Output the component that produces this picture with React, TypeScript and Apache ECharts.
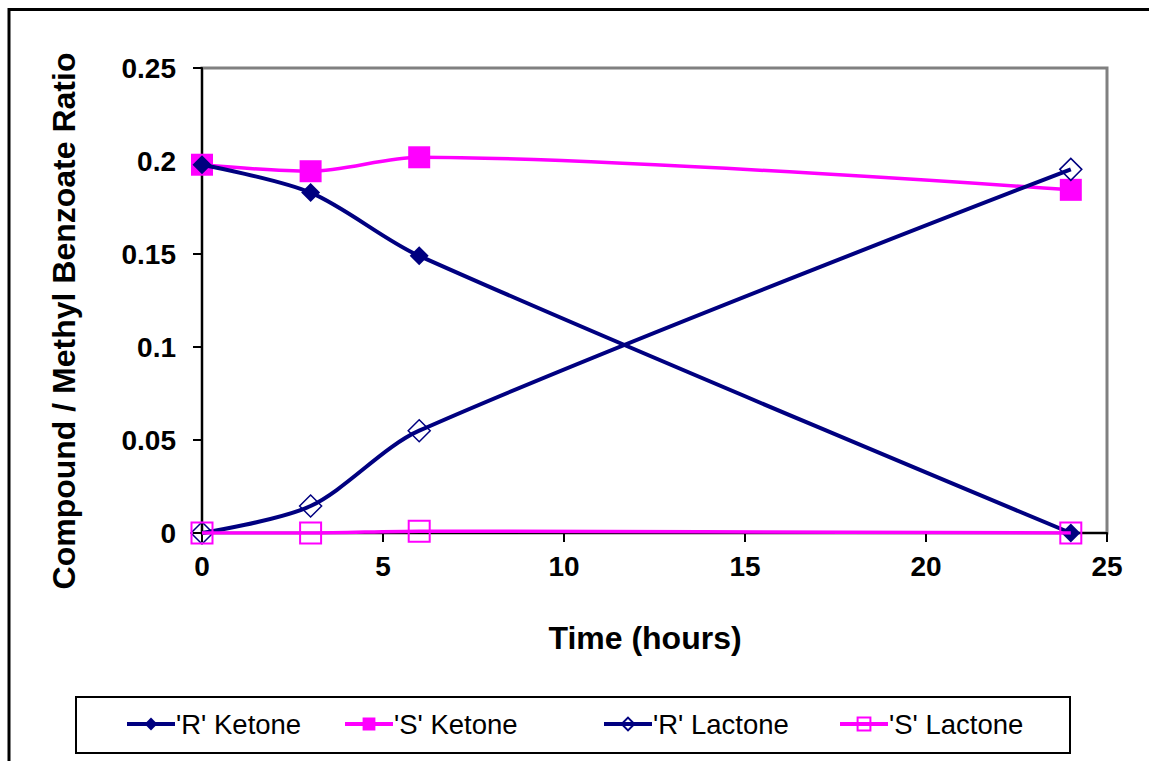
import React, { useEffect, useRef } from "react";
import * as echarts from "echarts";

const time = [0, 3, 6, 24];
const rKetone = [0.198, 0.183, 0.149, 0.0];
const sKetone = [0.198, 0.1945, 0.202, 0.1845];
const rLactone = [0.0, 0.0145, 0.055, 0.1955];
const sLactone = [0.0, 0.0, 0.001, 0.0];
const seriesNames = ["'R' Ketone", "'S' Ketone", "'R' Lactone", "'S' Lactone"];
const yTicks = [0, 0.05, 0.1, 0.15, 0.2, 0.25];
const xTitle = "Time (hours)";
const yTitle = "Compound / Methyl Benzoate Ratio";

const NAVY = "#000080";
const MAGENTA = "#FF00FF";
const FONT = "'Liberation Sans', Arial, sans-serif";

function pairs(vals: number[]) {
  return time.map((t, i) => [t, vals[i]]);
}

export default function App() {
  const ref = useRef<HTMLDivElement>(null);
  useEffect(() => {
    if (!ref.current) return;
    const chart = echarts.init(ref.current, null, { renderer: "svg" });
    const legendLefts = [125, 343, 602, 838];
    const legends = seriesNames.map((n, i) => ({
      data: [n],
      left: legendLefts[i],
      top: 710,
      orient: "horizontal",
      itemWidth: 48,
      itemHeight: 16,
      itemGap: 0,
      padding: 0,
      selectedMode: false,
      lineStyle: { width: 4 },
      textStyle: { fontFamily: FONT, fontSize: 27.5, color: "#000", padding: [0, 0, 0, -4] },
    }));
    chart.setOption({
      animation: false,
      backgroundColor: "#fff",
      grid: {
        left: 202,
        top: 68,
        right: 42,
        bottom: 228,
        show: true,
        borderColor: "#808080",
        borderWidth: 3,
        containLabel: false,
      },
      legend: legends,
      xAxis: {
        type: "value",
        min: 0,
        max: 25,
        interval: 5,
        axisLine: { show: true, onZero: false, lineStyle: { color: "#000", width: 2 } },
        axisTick: { show: true, inside: false, length: 9, lineStyle: { color: "#000", width: 2 } },
        axisLabel: { fontFamily: FONT, fontSize: 28, fontWeight: "bold", color: "#000", margin: 19 },
        splitLine: { show: false },
      },
      yAxis: {
        type: "value",
        min: 0,
        max: 0.25,
        interval: 0.05,
        axisLine: { show: true, onZero: false, lineStyle: { color: "#000", width: 2 } },
        axisTick: { show: true, inside: false, length: 9, lineStyle: { color: "#000", width: 2 } },
        axisLabel: {
          fontFamily: FONT,
          fontSize: 28,
          fontWeight: "bold",
          color: "#000",
          margin: 26,
          formatter: (v: number) => {
            const t = yTicks.find((x) => Math.abs(x - v) < 1e-9);
            return String(t !== undefined ? t : v);
          },
        },
        splitLine: { show: false },
      },
      series: [
        {
          name: seriesNames[0],
          type: "line",
          data: pairs(rKetone),
          smooth: 0.3,
          symbol: "diamond",
          symbolSize: 19,
          itemStyle: { color: NAVY },
          lineStyle: { color: NAVY, width: 4 },
          z: 3,
        },
        {
          name: seriesNames[1],
          type: "line",
          data: pairs(sKetone),
          smooth: 0.3,
          symbol: "rect",
          symbolSize: 22,
          itemStyle: { color: MAGENTA },
          lineStyle: { color: MAGENTA, width: 3.5 },
          z: 2,
        },
        {
          name: seriesNames[2],
          type: "line",
          data: pairs(rLactone),
          smooth: 0.3,
          symbol: "diamond",
          symbolSize: 22,
          itemStyle: { color: "rgba(255,255,255,0)", borderColor: NAVY, borderWidth: 1.5 },
          lineStyle: { color: NAVY, width: 4 },
          z: 3,
        },
        {
          name: seriesNames[3],
          type: "line",
          data: pairs(sLactone),
          smooth: 0.3,
          symbol: "rect",
          symbolSize: 21,
          itemStyle: { color: "rgba(255,255,255,0)", borderColor: MAGENTA, borderWidth: 2 },
          lineStyle: { color: MAGENTA, width: 3.5 },
          z: 4,
        },
      ],
      graphic: [
        {
          type: "rect",
          shape: { x: 9, y: 9.5, width: 1300, height: 900 },
          style: { fill: "none", stroke: "#000", lineWidth: 3 },
          silent: true,
          z: 0,
        },
        {
          type: "rect",
          shape: { x: 76, y: 697, width: 994, height: 56 },
          style: { fill: "none", stroke: "#000", lineWidth: 2 },
          silent: true,
          z: 0,
        },
        {
          type: "text",
          x: 645,
          y: 638,
          style: {
            text: xTitle,
            fontFamily: FONT,
            fontSize: 32,
            fontWeight: "bold",
            fill: "#000",
            align: "center",
            verticalAlign: "middle",
          },
          silent: true,
        },
        {
          type: "text",
          x: 64,
          y: 321,
          rotation: Math.PI / 2,
          style: {
            text: yTitle,
            fontFamily: FONT,
            fontSize: 32,
            fontWeight: "bold",
            fill: "#000",
            align: "center",
            verticalAlign: "middle",
          },
          silent: true,
        },
      ],
    });
    return () => chart.dispose();
  }, []);
  return (
    <div
      ref={ref}
      style={{ position: "fixed", left: 0, top: 0, width: 1149, height: 761, background: "#fff" }}
    />
  );
}
